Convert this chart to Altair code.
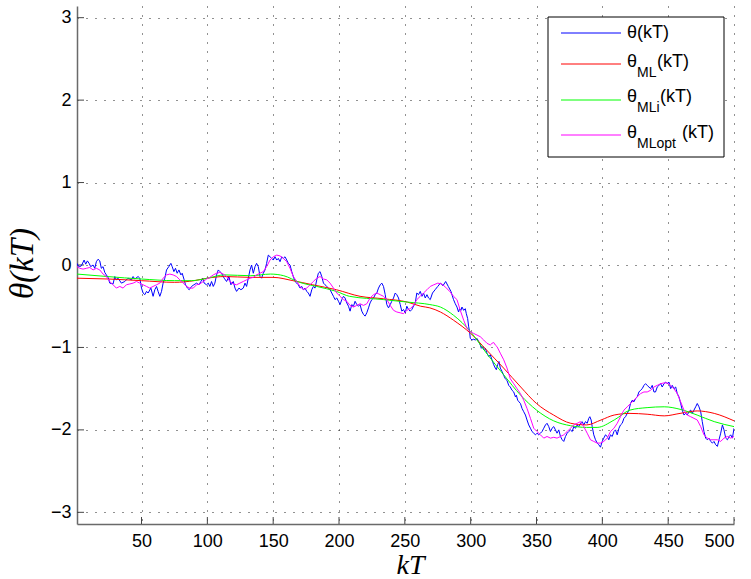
import math
import altair as alt
import pandas as pd

# ---- series: (k, theta) ----
theta_pts = [
    (1, 0.02), (1.8, -0.01), (3.1, -0.02), (4.3, -0.01), (6.4, 0.06), (7.6, 0.01), (8.9, 0.05),
    (10.2, 0.02), (11.4, -0.02), (13.2, 0.0), (14.5, -0.04), (15.7, 0.04), (17.0, 0.07), (18.3, 0.05),
    (19.5, -0.04), (20.8, -0.02), (22.1, -0.09), (23.3, -0.12), (24.6, -0.15), (25.9, -0.22),
    (28.4, -0.23), (29.7, -0.14), (30.9, -0.18), (32.2, -0.16), (34.7, -0.22), (37.3, -0.20),
    (39.8, -0.16), (42.4, -0.18), (43.6, -0.14), (44.9, -0.17), (47.4, -0.14), (48.7, -0.16),
    (50.0, -0.28), (51.2, -0.34), (52.5, -0.36), (53.8, -0.32), (55.0, -0.34), (57.1, -0.28),
    (58.8, -0.38), (60.1, -0.30), (61.4, -0.26), (62.6, -0.32), (63.9, -0.38), (65.2, -0.32),
    (66.4, -0.22), (67.7, -0.16), (69.0, -0.06), (70.7, -0.02), (72.3, 0.02), (73.3, -0.02),
    (74.6, -0.08), (75.8, -0.04), (77.1, -0.10), (78.4, -0.06), (79.9, -0.12), (80.9, -0.10),
    (82.4, -0.18), (83.4, -0.24), (84.9, -0.28), (86.2, -0.30), (88.0, -0.26), (89.8, -0.24),
    (91.8, -0.22), (93.6, -0.24), (95.1, -0.20), (96.4, -0.16), (97.6, -0.22), (99.4, -0.24),
    (100.7, -0.22), (101.9, -0.26), (103.2, -0.20), (104.5, -0.26), (105.7, -0.22), (107.0, -0.12),
    (108.3, -0.06), (109.5, -0.08), (110.8, -0.10), (112.8, -0.16), (114.6, -0.20), (116.4, -0.14),
    (117.9, -0.24), (119.7, -0.20), (121.0, -0.28), (122.2, -0.32), (124.0, -0.28), (125.5, -0.30),
    (127.3, -0.28), (128.6, -0.22), (129.8, -0.26), (131.1, -0.16),
    (132.4, -0.06), (133.6, 0.0), (134.9, -0.10), (136.2, -0.02), (137.4, 0.02), (138.7, -0.02),
    (140.0, -0.14), (141.2, -0.16), (142.5, -0.10), (143.8, -0.06), (145.0, 0.02), (146.3, 0.12),
    (147.6, 0.10), (148.9, 0.08), (150.1, 0.06), (151.4, 0.10), (152.7, 0.06), (153.9, 0.08),
    (155.2, 0.04), (156.5, 0.10), (157.7, 0.08), (159.0, 0.10), (160.3, 0.06), (161.5, 0.02),
    (162.8, 0.0), (164.1, -0.08), (165.3, -0.14), (166.6, -0.20), (167.9, -0.22), (169.1, -0.24),
    (170.4, -0.28), (171.7, -0.26), (172.9, -0.30), (174.2, -0.28), (175.5, -0.32), (176.7, -0.34),
    (178.0, -0.38), (179.3, -0.30), (180.5, -0.26), (181.8, -0.28), (183.1, -0.18), (184.3, -0.10),
    (185.6, -0.08), (186.9, -0.14), (188.2, -0.22), (189.4, -0.24), (190.7, -0.26), (192.0, -0.28),
    (193.2, -0.30), (194.5, -0.34), (195.8, -0.38), (197.0, -0.42), (198.3, -0.40), (199.6, -0.44),
    (200.8, -0.48), (202.1, -0.42), (203.4, -0.38), (204.6, -0.40), (205.9, -0.46), (207.2, -0.50),
    (208.4, -0.56), (209.7, -0.48), (211.0, -0.50), (212.2, -0.44), (213.5, -0.48), (214.8, -0.50),
    (216.0, -0.48), (217.3, -0.56), (218.6, -0.60), (219.8, -0.62), (221.1, -0.58), (222.4, -0.52),
    (223.6, -0.46), (224.9, -0.42), (226.2, -0.40), (227.5, -0.36), (228.7, -0.34), (230.0, -0.28),
    (231.3, -0.24), (232.5, -0.22), (233.8, -0.26), (235.1, -0.36), (236.3, -0.48), (237.6, -0.52),
    (238.9, -0.48), (240.1, -0.44), (241.4, -0.40), (242.7, -0.34), (243.9, -0.36), (245.2, -0.40),
    (246.5, -0.48), (247.7, -0.56), (249.0, -0.54), (250.3, -0.58), (251.5, -0.50), (252.8, -0.54),
    (254.1, -0.56), (255.3, -0.54), (256.6, -0.50), (257.9, -0.46), (259.1, -0.34), (260.4, -0.36),
    (261.7, -0.32), (263.0, -0.38), (264.2, -0.34), (265.5, -0.40), (266.8, -0.36), (268.0, -0.40),
    (269.3, -0.42), (271, -0.34), (273, -0.30), (275, -0.26), (277, -0.22), (279, -0.25), (281, -0.20),
    (283, -0.26), (285, -0.32),
    (287.0, -0.42), (288.3, -0.47), (289.6, -0.51), (290.8, -0.57), (291.6, -0.53), (292.6, -0.55),
    (293.4, -0.51), (294.7, -0.55), (295.9, -0.53), (296.7, -0.59), (297.7, -0.65), (298.5, -0.75),
    (299.2, -0.81), (299.7, -0.89), (301.0, -0.91), (302.3, -0.90), (303.5, -0.91), (304.8, -0.89),
    (306.1, -0.93), (307.3, -0.97), (308.1, -1.01), (309.1, -0.99), (309.9, -1.03), (311.1, -1.01),
    (312.4, -1.07), (313.7, -1.11), (314.9, -1.09), (316.2, -1.15), (317.5, -1.21), (318.7, -1.25),
    (319.5, -1.27), (320.5, -1.21), (321.5, -1.17), (322.5, -1.25), (323.8, -1.29), (325.1, -1.34),
    (326.3, -1.38), (327.6, -1.40), (328.9, -1.46), (330.1, -1.48), (331.4, -1.52), (332.7, -1.54),
    (334.0, -1.60), (334.7, -1.58), (335.7, -1.64), (336.7, -1.66), (337.8, -1.68), (339.0, -1.74),
    (340.3, -1.78), (341.6, -1.82), (342.8, -1.88), (344.1, -1.94), (345.4, -1.98), (346.6, -2.02),
    (347.9, -2.04), (349.2, -2.06), (350.4, -2.04), (351.7, -2.06), (353.0, -2.04), (354.2, -2.02),
    (355.5, -1.98), (356.8, -1.94), (358.0, -1.92), (359.3, -1.96), (360.6, -2.02), (361.8, -1.98),
    (363.1, -1.96), (364.4, -2.00), (365.6, -2.04), (366.9, -2.00), (368.2, -2.08), (369.5, -2.12),
    (370.7, -2.14), (372.0, -2.08), (373.3, -2.04), (374.5, -2.02), (375.8, -2.00), (377.1, -2.02),
    (378.3, -1.96), (379.6, -1.98), (380.9, -1.94), (382.1, -1.96), (383.4, -1.92),
    (384.7, -1.90), (385.9, -1.94), (387.2, -1.90), (388.5, -1.92), (389.7, -1.86), (390.5, -1.84),
    (391.5, -1.88), (392.3, -1.96), (393.5, -2.06), (394.8, -2.12), (396.1, -2.16), (397.3, -2.18),
    (398.6, -2.21), (399.9, -2.14), (401.1, -2.10), (402.4, -2.06), (403.7, -2.08), (404.9, -2.12),
    (406.2, -2.06), (407.5, -2.08), (408.8, -2.02), (410.0, -2.00), (411.3, -2.06), (412.6, -1.98),
    (413.8, -1.94), (415.1, -1.92), (416.4, -1.86), (417.6, -1.84), (418.9, -1.80), (420.2, -1.76),
    (421.4, -1.68), (422.7, -1.64), (424.0, -1.66), (425.2, -1.62), (426.5, -1.60), (427.8, -1.54),
    (429.0, -1.52), (430.3, -1.50), (431.6, -1.46), (432.8, -1.44), (434.1, -1.46), (435.4, -1.48),
    (436.6, -1.50), (437.9, -1.46), (439.2, -1.54), (440.4, -1.54), (441.7, -1.48), (443.0, -1.46),
    (444.3, -1.44), (445.5, -1.48), (446.8, -1.44), (448.1, -1.42), (449.3, -1.44), (450.6, -1.42),
    (451.9, -1.50), (453.1, -1.46), (454.4, -1.50), (455.7, -1.48), (456.9, -1.56), (458.2, -1.60),
    (459.5, -1.68), (460.7, -1.76), (462.0, -1.82), (463.3, -1.80), (464.5, -1.82), (465.8, -1.78),
    (467.1, -1.76), (468.3, -1.80), (469.6, -1.76), (470.9, -1.72), (472.1, -1.68), (473.4, -1.72),
    (474.7, -1.78), (475.9, -1.90), (477.2, -2.02), (478.5, -2.10), (479.7, -2.12), (481.0, -2.10),
    (482.3, -2.14), (483.6, -2.16), (484.8, -2.14), (486.1, -2.18), (487.4, -2.20), (488.6, -2.12),
    (489.9, -2.04), (491.2, -1.94), (492.4, -2.00), (493.7, -2.10), (495.0, -2.12), (496.3, -2.08),
    (497.5, -2.06), (498.8, -2.10), (500.0, -1.98),
]

theta_ml_pts = [
    (1, -0.16), (25, -0.17), (50, -0.19), (75, -0.21), (90, -0.19), (100, -0.16), (113, -0.14),
    (133, -0.15), (150, -0.15), (165, -0.19), (180, -0.24), (198, -0.30), (216, -0.38), (234, -0.41),
    (252, -0.45), (262, -0.50), (269, -0.52), (277, -0.57), (287, -0.67), (300, -0.83), (312, -1.03),
    (325, -1.25), (338, -1.48), (350, -1.68), (363, -1.82), (376, -1.92), (388, -1.94), (399, -1.88),
    (409, -1.82), (421, -1.80), (434, -1.81), (447, -1.83), (459, -1.80), (472, -1.77), (485, -1.80),
    (500, -1.89),
]

theta_mli_pts = [
    (1, -0.11), (24, -0.14), (50, -0.17), (75, -0.19), (88, -0.19), (100, -0.16), (113, -0.12),
    (133, -0.13), (148, -0.11), (158, -0.13), (170, -0.21), (183, -0.26), (198, -0.32), (208, -0.38),
    (234, -0.42), (252, -0.45), (269, -0.48), (277, -0.51), (287, -0.61), (300, -0.81), (312, -1.07),
    (325, -1.33), (338, -1.58), (350, -1.76), (363, -1.89), (376, -1.95), (388, -1.97), (396, -1.97),
    (409, -1.88), (421, -1.76), (434, -1.73), (447, -1.72), (459, -1.75), (472, -1.82), (485, -1.90),
    (500, -1.96),
]

theta_mlopt_pts = [
    (1, -0.02), (3.1, -0.04), (5.6, -0.05), (8.1, -0.04), (10.7, -0.03), (13.2, -0.06), (15.7, -0.04),
    (18.3, -0.06), (20.8, -0.11), (23.3, -0.14), (25.9, -0.20), (28.4, -0.24), (30.9, -0.28),
    (33.5, -0.26), (36.0, -0.28), (38.5, -0.24), (41.1, -0.23), (43.6, -0.22), (46.2, -0.20),
    (48.7, -0.22), (51.2, -0.24), (53.8, -0.26), (56.3, -0.28), (58.8, -0.26), (61.4, -0.24),
    (63.9, -0.22), (66.4, -0.16), (69.0, -0.12), (71.5, -0.11), (74.0, -0.12), (76.6, -0.14),
    (79.1, -0.18), (81.7, -0.22), (84.2, -0.26), (86.7, -0.28), (89.3, -0.28), (91.8, -0.24),
    (94.3, -0.23), (96.9, -0.20), (99.4, -0.17), (101.9, -0.15), (104.5, -0.12), (107.0, -0.10),
    (109.5, -0.09), (112.1, -0.11), (114.6, -0.14), (117.1, -0.20), (119.7, -0.23), (122.2, -0.24),
    (124.7, -0.22), (127.3, -0.20), (129.8, -0.18),
    (132.4, -0.16), (134.9, -0.15), (137.4, -0.12), (140.0, -0.10), (142.5, -0.08), (145.0, -0.02),
    (147.6, 0.06), (150.1, 0.10), (152.7, 0.12), (155.2, 0.11), (157.7, 0.08), (160.3, 0.04),
    (162.8, -0.04), (165.3, -0.14), (167.9, -0.20), (170.4, -0.26), (172.9, -0.30), (175.5, -0.28),
    (178.0, -0.24), (180.5, -0.20), (183.1, -0.16), (185.6, -0.14), (188.2, -0.17), (190.7, -0.18),
    (193.2, -0.22), (195.8, -0.28), (198.3, -0.34), (200.8, -0.38), (203.4, -0.42), (205.9, -0.44),
    (208.4, -0.49), (211.0, -0.51), (213.5, -0.49), (216.0, -0.47), (218.6, -0.49), (221.1, -0.47),
    (223.6, -0.40), (226.2, -0.36), (228.7, -0.34), (231.3, -0.36), (233.8, -0.38), (236.3, -0.42),
    (238.9, -0.49), (241.4, -0.55), (243.9, -0.57), (246.5, -0.58), (249.0, -0.59), (251.5, -0.55),
    (254.1, -0.53), (256.6, -0.49), (259.1, -0.42), (261.7, -0.38), (264.2, -0.34), (266.8, -0.30),
    (269.3, -0.26), (272, -0.24), (275, -0.22), (278, -0.23), (281, -0.27), (284, -0.32), (287, -0.38),
    (289.6, -0.42), (292.1, -0.55), (294.7, -0.67), (297.2, -0.77), (299.7, -0.81), (302.3, -0.83),
    (304.8, -0.85), (307.3, -0.87), (309.9, -0.91), (312.4, -0.95), (314.9, -0.97), (316.2, -0.95),
    (317.5, -0.94), (318.7, -0.97), (320.0, -0.99), (322.5, -1.07), (325.1, -1.15), (327.6, -1.25),
    (330.1, -1.38), (332.7, -1.44), (335.2, -1.50), (337.8, -1.56), (340.3, -1.64), (342.8, -1.74),
    (345.4, -1.86), (347.9, -1.98), (350.4, -2.02), (353.0, -2.06), (355.5, -2.10), (358.0, -2.08),
    (360.6, -2.10), (363.1, -2.09), (365.6, -2.10), (368.2, -2.08), (370.7, -2.06), (373.3, -2.02),
    (375.8, -1.98), (378.3, -1.94), (380.9, -1.92),
    (383.4, -1.90), (385.9, -1.96), (388.5, -2.04), (391.0, -2.12), (393.5, -2.14), (396.1, -2.16),
    (398.6, -2.16), (401.1, -2.14), (403.7, -2.10), (406.2, -2.02), (408.8, -1.98), (411.3, -1.92),
    (413.8, -1.84), (416.4, -1.76), (418.9, -1.72), (421.4, -1.68), (424.0, -1.64), (426.5, -1.60),
    (429.0, -1.56), (431.6, -1.54), (434.1, -1.54), (436.6, -1.52), (439.2, -1.48), (441.7, -1.46),
    (444.3, -1.44), (446.8, -1.43), (449.3, -1.43), (451.9, -1.46), (454.4, -1.50), (456.9, -1.56),
    (459.5, -1.66), (462.0, -1.76), (464.5, -1.82), (467.1, -1.84), (469.6, -1.86), (472.1, -1.88),
    (474.7, -1.96), (477.2, -2.06), (479.7, -2.10), (482.3, -2.12), (484.8, -2.12), (487.4, -2.12),
    (489.9, -2.14), (492.4, -2.10), (495.0, -2.08), (497.5, -2.10), (500.0, -2.08),
]

x_ticks = [50, 100, 150, 200, 250, 300, 350, 400, 450, 500]
y_ticks = [-3, -2, -1, 0, 1, 2, 3]

series_colors = ["#0000ff", "#ff0000", "#00ff00", "#ff00ff"]
legend_subscripts = ["", "ML", "MLi", "MLopt"]

# ---- layout ----
W, H = 657, 518
LABEL_FONT = "Liberation Sans"
MATH_FONT = "Liberation Serif"

xs = alt.Scale(domain=[1, 500], nice=False, zero=False)
ys = alt.Scale(domain=[-math.pi, math.pi], nice=False, zero=False)


def frame(pts):
    return pd.DataFrame(pts, columns=["k", "theta"])


x_axis = alt.Axis(
    values=x_ticks, grid=True, gridDash=[1, 8], gridColor="#222", gridWidth=1,
    tickSize=0, domainColor="#6a6a6a", domainWidth=1.5,
    labelFont=LABEL_FONT, labelFontSize=18, labelColor="#000", labelPadding=8,
    title="kT", titleFont=MATH_FONT, titleFontStyle="italic", titleFontWeight="normal",
    titleFontSize=28, titleColor="#000", titleBaseline="alphabetic", titleY=49, titleX=333,
)
y_axis = alt.Axis(
    values=y_ticks, grid=True, gridDash=[1, 8], gridColor="#222", gridWidth=1,
    tickSize=0, domainColor="#6a6a6a", domainWidth=1.5,
    labelFont=LABEL_FONT, labelFontSize=18, labelColor="#000", labelPadding=6,
    title="θ(kT)", titleFont=MATH_FONT, titleFontStyle="italic", titleFontWeight="normal",
    titleFontSize=33, titleColor="#000", titleAngle=-90, titleBaseline="alphabetic",
    titleX=-45, titleY=257,
)


def series_line(pts, color, smooth=False):
    kw = {"interpolate": "monotone"} if smooth else {}
    return alt.Chart(frame(pts)).mark_line(color=color, strokeWidth=1, clip=True, **kw).encode(
        x=alt.X("k:Q", scale=xs, axis=x_axis),
        y=alt.Y("theta:Q", scale=ys, axis=y_axis),
        order="k:Q",
    )


lines = [
    series_line(theta_pts, series_colors[0]),
    series_line(theta_ml_pts, series_colors[1], smooth=True),
    series_line(theta_mli_pts, series_colors[2], smooth=True),
    series_line(theta_mlopt_pts, series_colors[3]),
]

# inward tick marks drawn as short rules
x_tick_marks = alt.Chart(pd.DataFrame({"k": x_ticks})).mark_rule(color="#444", strokeWidth=1).encode(
    x=alt.X("k:Q", scale=xs, axis=x_axis), y=alt.value(H), y2=alt.value(H - 7)
)
y_tick_marks = alt.Chart(pd.DataFrame({"theta": y_ticks})).mark_rule(color="#444", strokeWidth=1).encode(
    y=alt.Y("theta:Q", scale=ys, axis=y_axis), x=alt.value(0), x2=alt.value(7)
)

# legend box
one = pd.DataFrame({"z": [0]})
legend_layers = [
    alt.Chart(one).mark_rect(fill="white", stroke="black", strokeWidth=1).encode(
        x=alt.value(471), x2=alt.value(647), y=alt.value(11), y2=alt.value(151)
    )
]
row_line_y = [27, 58, 94, 129]
row_text_y = [27, 56, 91, 127]
suffix_x = [560, 580, 583, 605]
for i, sub in enumerate(legend_subscripts):
    legend_layers.append(
        alt.Chart(one).mark_rule(color=series_colors[i], strokeWidth=1).encode(
            x=alt.value(484), x2=alt.value(544), y=alt.value(row_line_y[i])
        )
    )
    txt = dict(align="left", baseline="middle", font=LABEL_FONT, color="#000")
    legend_layers.append(
        alt.Chart(one).mark_text(fontSize=18, **txt).encode(
            x=alt.value(550), y=alt.value(row_text_y[i]), text=alt.value("θ")
        )
    )
    if sub:
        legend_layers.append(
            alt.Chart(one).mark_text(fontSize=14, **txt).encode(
                x=alt.value(560), y=alt.value(row_text_y[i] + 11), text=alt.value(sub)
            )
        )
    legend_layers.append(
        alt.Chart(one).mark_text(fontSize=18, **txt).encode(
            x=alt.value(suffix_x[i]), y=alt.value(row_text_y[i]), text=alt.value("(kT)")
        )
    )

chart = alt.layer(x_tick_marks, y_tick_marks, *lines, *legend_layers).properties(
    width=W, height=H,
    autosize=alt.AutoSizeParams(type="none"),
    padding={"left": 77, "top": 6, "right": 17, "bottom": 55},
    background="white",
).configure_view(stroke=None)

chart.save("out.html", embed_options={"renderer": "svg", "actions": False})
